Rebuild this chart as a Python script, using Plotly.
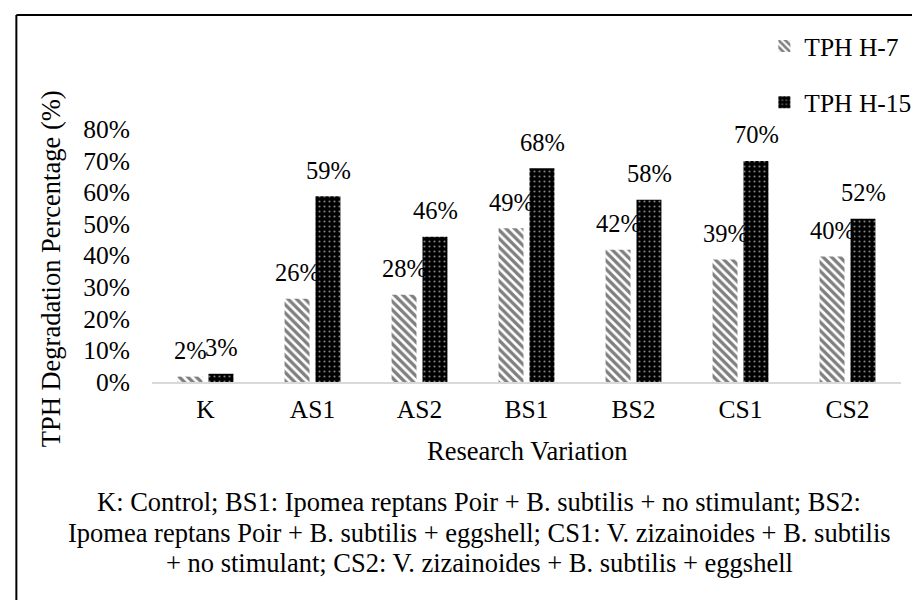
import plotly.graph_objects as go

categories = ["K", "AS1", "AS2", "BS1", "BS2", "CS1", "CS2"]
tph_h7 = [0.017, 0.263, 0.276, 0.486, 0.418, 0.387, 0.397]
tph_h15 = [0.026, 0.587, 0.459, 0.676, 0.576, 0.699, 0.516]
series_names = ["TPH H-7", "TPH H-15"]
y_title = "TPH Degradation Percentage (%)"
x_title = "Research Variation"
note_lines = [
    "K: Control; BS1: Ipomea reptans Poir + B. subtilis + no stimulant; BS2:",
    "Ipomea reptans Poir + B. subtilis + eggshell; CS1: V. zizainoides + B. subtilis",
    "+ no stimulant; CS2: V. zizainoides + B. subtilis + eggshell",
]

W, H = 920, 600
L, R, T, B = 144, 25, 121, 226
PW, PH = W - L - R, H - T - B
FONT = "Liberation Serif"


def px(xp):
    return (xp - L) / PW


def py(yp):
    return (H - B - yp) / PH


fig = go.Figure()
fig.add_bar(
    x=categories, y=tph_h7, name=series_names[0], legendgroup="a",
    marker=dict(color="white", line=dict(width=0),
                pattern=dict(shape="\\", fgcolor="black", bgcolor="white", size=6, solidity=0.55)),
)
fig.add_bar(
    x=categories, y=tph_h15, name=series_names[1], legendgroup="b",
    marker=dict(color="black", line=dict(width=0),
                pattern=dict(shape=".", fgcolor="white", bgcolor="black", size=5, solidity=0.15)),
)

annotations = []
for vals, shift in ((tph_h7, -15.5), (tph_h15, 15.5)):
    for c, v in zip(categories, vals):
        annotations.append(dict(
            x=c, y=v, xref="x", yref="y", text=f"{v:.0%}", showarrow=False,
            xshift=shift, yshift=26, yanchor="middle", xanchor="center",
            font=dict(family=FONT, size=24.5, color="black"),
        ))

annotations.append(dict(x=px(43), y=py(261), xref="paper", yref="paper", text=y_title,
                        textangle=-90, showarrow=False, xanchor="center", yanchor="middle",
                        font=dict(family=FONT, size=26.5, color="black")))
annotations.append(dict(x=px(520), y=py(443), xref="paper", yref="paper", text=x_title,
                        showarrow=False, xanchor="center", yanchor="middle",
                        font=dict(family=FONT, size=26.5, color="black")))
for line, ypix in zip(note_lines, (494, 525, 555)):
    annotations.append(dict(x=px(472), y=py(ypix), xref="paper", yref="paper", text=line,
                            showarrow=False, xanchor="center", yanchor="middle",
                            font=dict(family=FONT, size=26.5, color="black")))

shapes = [
    dict(type="line", xref="paper", yref="paper", x0=px(8), x1=px(930), y0=py(7), y1=py(7),
         line=dict(color="black", width=2)),
    dict(type="line", xref="paper", yref="paper", x0=px(8), x1=px(8), y0=py(7), y1=py(610),
         line=dict(color="black", width=2)),
]

fig.update_layout(
    width=W, height=H,
    margin=dict(l=L, r=R, t=T, b=B, pad=0),
    paper_bgcolor="white", plot_bgcolor="white",
    barmode="group", bargap=0.422, bargroupgap=0.194,
    font=dict(family=FONT, size=25.5, color="black"),
    showlegend=True,
    legend=dict(x=px(758), xanchor="left", y=py(15), yanchor="top",
                font=dict(family=FONT, size=25.5, color="black"),
                tracegroupgap=20, bgcolor="rgba(0,0,0,0)", borderwidth=0),
    annotations=annotations,
    shapes=shapes,
)
fig.update_xaxes(showline=True, linecolor="#d9d9d9", linewidth=2, ticks="", showgrid=False,
                 zeroline=False, ticklabelstandoff=3,
                 tickfont=dict(family=FONT, size=25.5, color="black"))
fig.update_yaxes(range=[0, 0.8], dtick=0.1, tickformat=".0%", showgrid=False, zeroline=False,
                 showline=False, ticks="", ticklabelstandoff=21,
                 tickfont=dict(family=FONT, size=25.5, color="black"))

fig.write_html("out.html")
